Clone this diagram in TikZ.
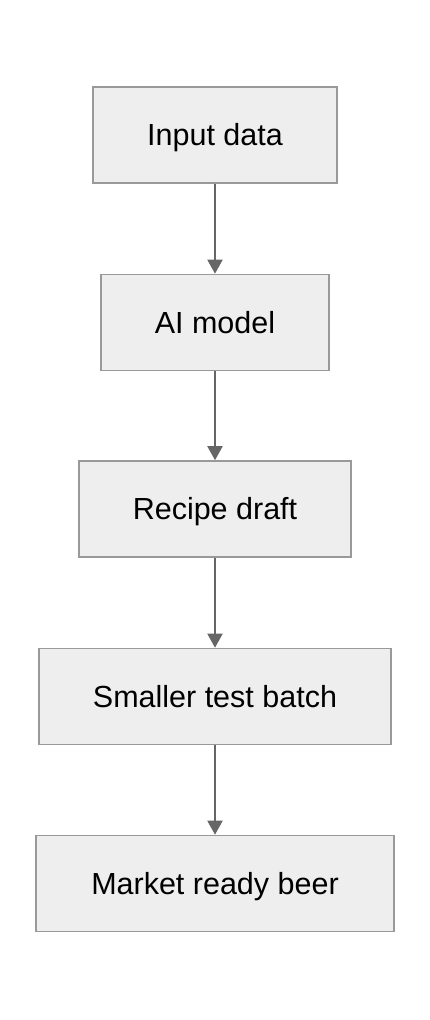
\documentclass[tikz,border=0pt]{standalone}
\usepackage{fontspec}
\setmainfont{Liberation Sans}
\usetikzlibrary{arrows.meta}
\definecolor{boxfill}{HTML}{EEEEEE}
\definecolor{boxline}{HTML}{999999}
\definecolor{arrowcol}{HTML}{666666}
\tikzset{
  stepbox/.style={draw=boxline, fill=boxfill, line width=1.6pt, inner sep=0pt,
    minimum height=96pt, text height=21.5pt, text depth=0pt,
    font=\fontsize{30.5}{36}\selectfont, text=black},
  flow/.style={draw=arrowcol, line width=2pt, -{Triangle[width=15pt,length=14pt]}}
}
\begin{document}
\begin{tikzpicture}[x=1pt,y=-1pt]
\useasboundingbox (0,0) rectangle (430,1020);
\node[stepbox, minimum width=244pt] (a) at (215,135) {Input data};
\node[stepbox, minimum width=228pt] (b) at (215,322.5) {AI model};
\node[stepbox, minimum width=272pt] (c) at (215,509) {Recipe draft};
\node[stepbox, minimum width=352pt] (d) at (215,696.5) {Smaller test batch};
\node[stepbox, minimum width=358pt] (e) at (215,883.5) {Market ready beer};
\draw[flow] (a.south) -- (b.north);
\draw[flow] (b.south) -- (c.north);
\draw[flow] (c.south) -- (d.north);
\draw[flow] (d.south) -- (e.north);
\end{tikzpicture}
\end{document}
